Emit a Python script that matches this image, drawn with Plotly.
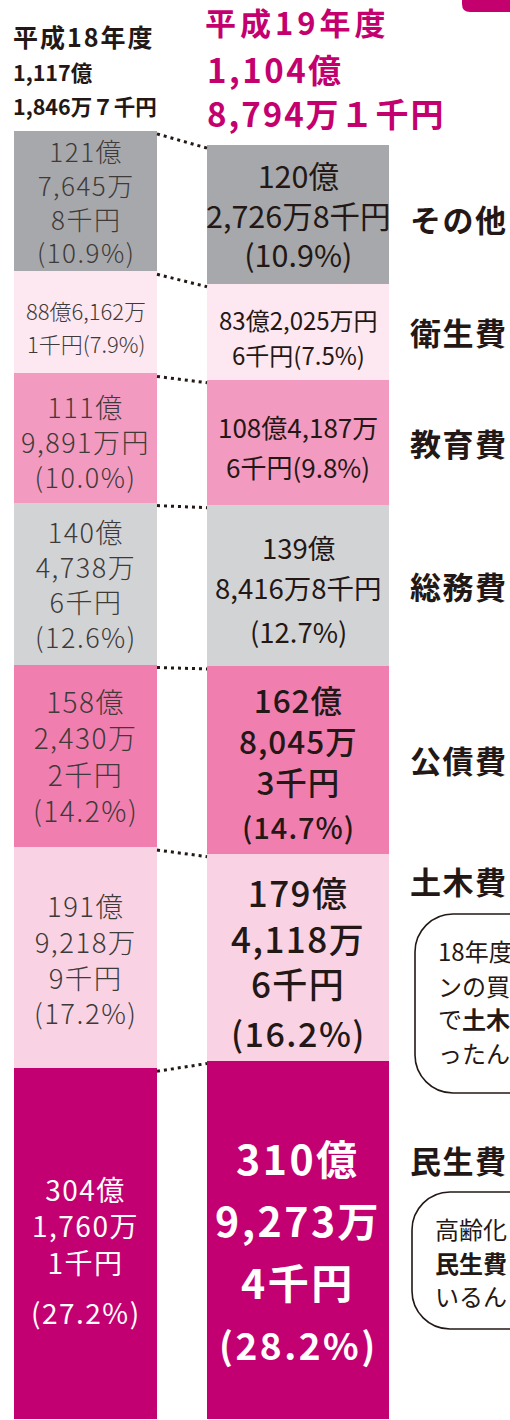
import plotly.graph_objects as go

# ---------------- data (values in 千円) ----------------
categories = ["民生費", "土木費", "公債費", "総務費", "教育費", "衛生費", "その他"]  # bottom -> top
h18_values = [30417601, 19192189, 15824302, 14047386, 11198910, 8861621, 12176458]
h19_values = [31092734, 17941186, 16280453, 13984168, 10841876, 8320256, 12027268]
h18_labels = [
    ["304億", "1,760万", "1千円", "(27.2%)"],
    ["191億", "9,218万", "9千円", "(17.2%)"],
    ["158億", "2,430万", "2千円", "(14.2%)"],
    ["140億", "4,738万", "6千円", "(12.6%)"],
    ["111億", "9,891万円", "(10.0%)"],
    ["88億6,162万", "1千円(7.9%)"],
    ["121億", "7,645万", "8千円", "(10.9%)"],
]
h19_labels = [
    ["310億", "9,273万", "4千円", "(28.2%)"],
    ["179億", "4,118万", "6千円", "(16.2%)"],
    ["162億", "8,045万", "3千円", "(14.7%)"],
    ["139億", "8,416万8千円", "(12.7%)"],
    ["108億4,187万", "6千円(9.8%)"],
    ["83億2,025万円", "6千円(7.5%)"],
    ["120億", "2,726万8千円", "(10.9%)"],
]
year_titles = ["平成18年度", "平成19年度"]
total_labels = [["1,117億", "1,846万７千円"], ["1,104億", "8,794万１千円"]]
bubble1_lines = ["18年度", "ンの買", "で<b>土木</b>", "ったん"]
bubble2_lines = ["高齢化", "<b>民生費</b>", "いるん"]

# ---------------- styles / geometry ----------------
FONT = "Noto Sans CJK JP"
DARK = "#231815"
GREYTXT = "#3e3a39"
MAGENTA = "#c4006f"
colors = ["#c30072", "#f9d3e4", "#f07fb0", "#d2d3d5", "#f39ac0", "#fde7f0", "#a7a8ab"]
W, H = 510, 1420
PX = 1.153          # pixels per 億円
BASE = 1419         # pixel row of value 0
bar_x = [85.5, 298]
bar_w = [143, 182]

def py2paper(p):
    return 1 - p / H

def ls(text, px):
    return f'<span style="letter-spacing:{px}px">{text}</span>' if px else text

# blocks: (first line, end line, font size, block-centre offset in px below segment centre)
left_specs = [
    dict(blocks=[(0, 3, 28, -18.5), (3, 4, 28, 68)], color="white", weight=400, ls=1.5),
    dict(blocks=[(0, 4, 27.5, 1)], color=GREYTXT, weight=300, ls=1.5),
    dict(blocks=[(0, 4, 28, 0)], color=GREYTXT, weight=300, ls=1.5),
    dict(blocks=[(0, 4, 27, 0.5)], color=GREYTXT, weight=300, ls=1.5),
    dict(blocks=[(0, 3, 27, 3)], color=GREYTXT, weight=300, ls=1.5),
    dict(blocks=[(0, 1, 22, -12), (1, 2, 22, 21)], color=GREYTXT, weight=300, ls=0),
    dict(blocks=[(0, 4, 26, 0)], color=GREYTXT, weight=300, ls=1.5),
]
right_specs = [
    dict(blocks=[(0, 1, 41, -82.5), (1, 2, 41, -20.5), (2, 3, 41, 41.5), (3, 4, 37, 104.5)],
         color="white", weight=700, ls=2.5),
    dict(blocks=[(0, 3, 35, -20.5), (3, 4, 34, 75)], color=DARK, weight=500, ls=1.5),
    dict(blocks=[(0, 3, 31.5, -19.5), (3, 4, 29, 66.5)], color=DARK, weight=500, ls=1),
    dict(blocks=[(0, 1, 27.5, -38.5), (1, 2, 27.5, 1.5), (2, 3, 27.5, 45.5)],
         color=DARK, weight=400, ls=0),
    dict(blocks=[(0, 1, 26, -15.5), (1, 2, 26, 24.5)], color=DARK, weight=400, ls=0),
    dict(blocks=[(0, 1, 24, -12), (1, 2, 24, 23)], color=DARK, weight=400, ls=0),
    dict(blocks=[(0, 3, 30.5, 0.5)], color=DARK, weight=400, ls=0),
]

fig = go.Figure()
for i, cat in enumerate(categories):
    fig.add_trace(go.Bar(
        x=bar_x, y=[h18_values[i] / 1e5, h19_values[i] / 1e5], width=bar_w,
        marker=dict(color=colors[i], line=dict(width=0)), name=cat,
        hoverinfo="skip"))

annotations = []
shapes = []

def add_label(xc, seg_mid, lines, spec):
    for (a, b, size, off) in spec["blocks"]:
        parts = [ls(lines[j], spec["ls"]) for j in range(a, b)]
        annotations.append(dict(
            x=xc, y=seg_mid, xref="x", yref="y", text="<br>".join(parts), showarrow=False,
            xanchor="center", yanchor="middle", yshift=-off, align="center",
            font=dict(family=FONT, size=size, color=spec["color"], weight=spec["weight"])))

for b, (vals, labels, specs) in enumerate([(h18_values, h18_labels, left_specs),
                                             (h19_values, h19_labels, right_specs)]):
    cum = 0
    for i in range(len(categories)):
        v = vals[i] / 1e5
        add_label(bar_x[b], cum + v / 2, labels[i], specs[i])
        cum += v

# dotted connectors between segment tops
c18 = c19 = 0
off = 3 / PX
for i in range(len(categories)):
    c18 += h18_values[i] / 1e5
    c19 += h19_values[i] / 1e5
    shapes.append(dict(type="line", xref="x", yref="y",
                       x0=bar_x[0] + bar_w[0] / 2, y0=c18 - off,
                       x1=bar_x[1] - bar_w[1] / 2, y1=c19 - off,
                       line=dict(color=DARK, width=3, dash="3px,4px")))

# category labels to the right of the right bar
cat_shift = [80, 76.5, 0, 0, 0, 0, -4]
cum = 0
for i, cat in enumerate(categories):
    v = h19_values[i] / 1e5
    annotations.append(dict(
        x=408, y=cum + v / 2, xref="x", yref="y", text=ls(cat, 1.5), showarrow=False,
        xanchor="left", yanchor="middle", yshift=cat_shift[i],
        font=dict(family=FONT, size=31, color=DARK, weight=700)))
    cum += v

# headers
annotations.append(dict(x=11, y=py2paper(36), xref="x", yref="paper", text=ls(year_titles[0], 2),
                        showarrow=False, xanchor="left", yanchor="middle",
                        font=dict(family=FONT, size=25, color=DARK, weight=700)))
for t, yy in zip(total_labels[0], [71, 105]):
    annotations.append(dict(x=11, y=py2paper(yy), xref="x", yref="paper", text=t,
                            showarrow=False, xanchor="left", yanchor="middle",
                            font=dict(family=FONT, size=21.5, color=DARK, weight=700)))
annotations.append(dict(x=203, y=py2paper(22), xref="x", yref="paper", text=ls(year_titles[1], 4),
                        showarrow=False, xanchor="left", yanchor="middle",
                        font=dict(family=FONT, size=31, color=MAGENTA, weight=700)))
for t, yy, sp in zip(total_labels[1], [69, 113], [2.5, 2]):
    annotations.append(dict(x=205, y=py2paper(yy), xref="x", yref="paper", text=ls(t, sp),
                            showarrow=False, xanchor="left", yanchor="middle",
                            font=dict(family=FONT, size=33, color=MAGENTA, weight=700)))

# top-right tab
r = 8
shapes.append(dict(type="path", xref="x", yref="paper",
                   path=(f"M 462,{py2paper(-5)} L 462,{py2paper(12 - r)} "
                         f"Q 462,{py2paper(12)} {462 + r},{py2paper(12)} "
                         f"L 530,{py2paper(12)} L 530,{py2paper(-5)} Z"),
                   fillcolor=MAGENTA, line=dict(width=0)))

# speech bubbles
def bubble(x0, top, bot, rad):
    k = 0.55 * rad
    return (f"M 540,{py2paper(top)} L {x0 + rad},{py2paper(top)} "
            f"C {x0 + rad - k},{py2paper(top)} {x0},{py2paper(top + rad - k)} {x0},{py2paper(top + rad)} "
            f"L {x0},{py2paper(bot - rad)} "
            f"C {x0},{py2paper(bot - rad + k)} {x0 + rad - k},{py2paper(bot)} {x0 + rad},{py2paper(bot)} "
            f"L 540,{py2paper(bot)}")

shapes.append(dict(type="path", xref="x", yref="paper", path=bubble(415, 914, 1093, 38),
                   fillcolor="white", line=dict(color=DARK, width=1.6)))
shapes.append(dict(type="path", xref="x", yref="paper", path=bubble(412, 1192, 1329, 38),
                   fillcolor="white", line=dict(color=DARK, width=1.6)))

for t, yy in zip(bubble1_lines, [950, 985, 1018, 1052]):
    annotations.append(dict(x=436, y=py2paper(yy), xref="x", yref="paper", text=t,
                            showarrow=False, xanchor="left", yanchor="middle",
                            font=dict(family=FONT, size=24, color=DARK)))
for t, yy in zip(bubble2_lines, [1228, 1262, 1295]):
    annotations.append(dict(x=433, y=py2paper(yy), xref="x", yref="paper", text=t,
                            showarrow=False, xanchor="left", yanchor="middle",
                            font=dict(family=FONT, size=24, color=DARK)))

fig.update_layout(
    width=W, height=H, margin=dict(l=0, r=0, t=0, b=0),
    paper_bgcolor="white", plot_bgcolor="white",
    barmode="stack", showlegend=False,
    xaxis=dict(range=[0, W], visible=False, fixedrange=True),
    yaxis=dict(range=[(BASE - H) / PX, BASE / PX], visible=False, fixedrange=True),
    annotations=annotations, shapes=shapes,
    font=dict(family=FONT),
)
fig.write_html("out.html", config={"displayModeBar": False})
